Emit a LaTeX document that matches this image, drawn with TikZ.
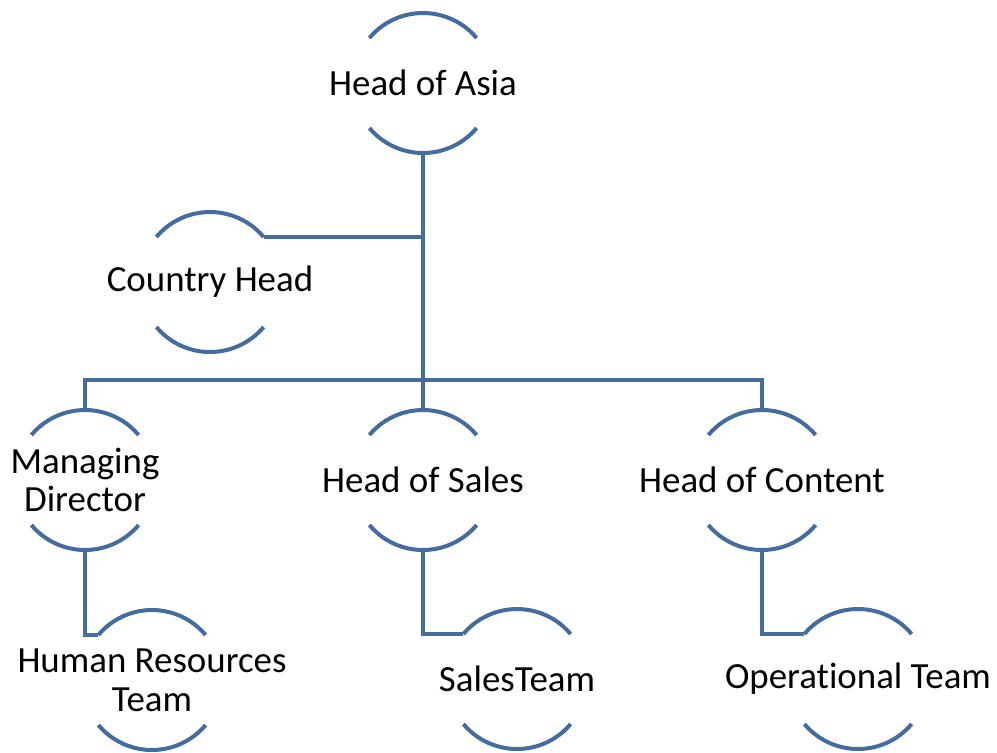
\documentclass[tikz,border=0pt]{standalone}
\usepackage{fontspec}
\setmainfont{Carlito}[RawFeature={-liga;-clig;-dlig;-calt}]
\definecolor{arcblue}{RGB}{68,108,158}
\begin{document}
\begin{tikzpicture}[
x=0.02cm, y=0.02cm,
post/.style={align=center, font=\fontsize{21}{22}\selectfont, inner sep=0pt},
link/.style={draw=arcblue, line width=0.08cm},
]
\useasboundingbox (0,0) rectangle (997,-752);
% the posts
\node[post] (asia) at (423,-83) {Head of Asia};
\node[post] (country) at (210,-282) {Country Head};
\node[post] (md) at (85,-480) {Managing\\Director};
\node[post] (sales) at (423,-480) {Head of Sales};
\node[post] (content) at (762,-480) {Head of Content};
\node[post] (hr) at (152,-680) {Human Resources\\Team};
\node[post] (steam) at (517,-679) {SalesTeam};
\node[post] (ops) at (858,-679) {Operational Team};
% the two arcs round each post
\foreach \n in {asia,country,md,sales,content,hr,steam,ops}{
  \draw[link] ([shift={(40:70)}]\n.center) coordinate (\n-tr)
    arc[start angle=40, end angle=140, radius=70] coordinate (\n-tl);
  \draw[link] ([shift={(220:70)}]\n.center)
    arc[start angle=220, end angle=320, radius=70];
  \coordinate (\n-t) at ([shift={(90:70)}]\n.center);
  \coordinate (\n-b) at ([shift={(270:70)}]\n.center);
}
% the lines
\draw[link] (asia-b) -- (sales-t);
\draw[link] (country-tr) -- (country-tr -| asia-b);
\draw[link] (md-t) -- ++(0,30) -| (content-t);
\draw[link] (md-b) |- (hr-tl);
\draw[link] (sales-b) |- (steam-tl);
\draw[link] (content-b) |- (ops-tl);
\end{tikzpicture}
\end{document}
